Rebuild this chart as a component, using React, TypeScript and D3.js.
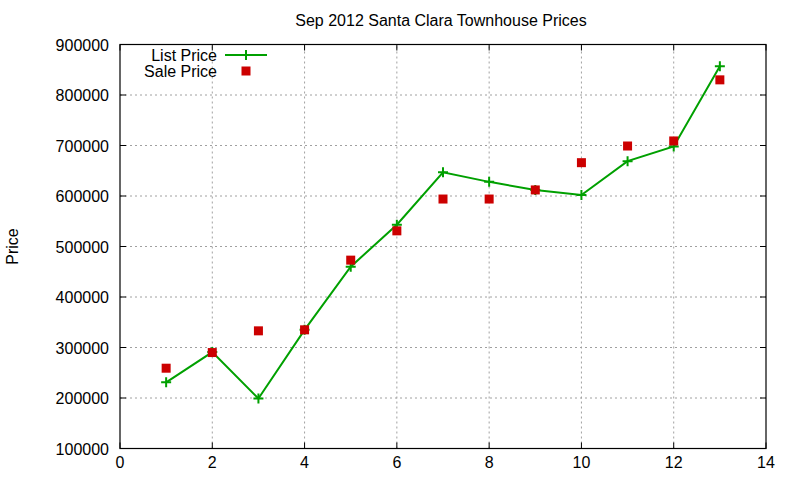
import * as d3 from "d3";

const xs = [1, 2, 3, 4, 5, 6, 7, 8, 9, 10, 11, 12, 13];
const listPrice = [231000, 291000, 199000, 335000, 460000, 543000, 647000, 628000, 612000, 602000, 669000, 698000, 857000];
const salePrice = [259000, 290000, 333000, 335000, 473000, 531000, 594000, 594000, 612000, 666000, 699000, 709000, 830000];
const xTicks = [0, 2, 4, 6, 8, 10, 12, 14];
const yTicks = [100000, 200000, 300000, 400000, 500000, 600000, 700000, 800000, 900000];

const W = 800;
const H = 480;
const m = { l: 120, r: 34, t: 44.5, b: 31.5 };
const font = "'Liberation Sans', Arial, sans-serif";

export default function App() {
  const x = d3.scaleLinear().domain([0, 14]).range([m.l, W - m.r]);
  const y = d3.scaleLinear().domain([100000, 900000]).range([H - m.b, m.t]);
  const line = d3
    .line<number>()
    .x((_, i) => x(xs[i]))
    .y((d) => y(d));
  const green = "#00a000";
  const red = "#cc0000";
  const plus = (cx: number, cy: number, k: string) => (
    <path key={k} d={`M${cx - 5},${cy}H${cx + 5}M${cx},${cy - 5}V${cy + 5}`} stroke={green} strokeWidth={2} />
  );

  return (
    <svg
      width={W}
      height={H}
      style={{ position: "absolute", left: 0, top: 0, background: "#fff" }}
      fontFamily={font}
    >
      {/* grid */}
      <g stroke="#a0a0a0" strokeWidth={1} strokeDasharray="2,3">
        {xTicks.slice(1, -1).map((t) => (
          <line key={"gx" + t} x1={x(t)} x2={x(t)} y1={y(100000)} y2={y(900000)} />
        ))}
        {yTicks.slice(1, -1).map((t) => (
          <line key={"gy" + t} x1={x(0)} x2={x(14)} y1={y(t)} y2={y(t)} />
        ))}
      </g>
      {/* ticks, mirrored */}
      <g stroke="#000" strokeWidth={1}>
        {xTicks.map((t) => (
          <g key={"tx" + t}>
            <line x1={x(t)} x2={x(t)} y1={y(100000)} y2={y(100000) - 6} />
            <line x1={x(t)} x2={x(t)} y1={y(900000)} y2={y(900000) + 6} />
          </g>
        ))}
        {yTicks.map((t) => (
          <g key={"ty" + t}>
            <line x1={x(0)} x2={x(0) + 6} y1={y(t)} y2={y(t)} />
            <line x1={x(14)} x2={x(14) - 6} y1={y(t)} y2={y(t)} />
          </g>
        ))}
      </g>
      <rect
        x={x(0)}
        y={y(900000)}
        width={x(14) - x(0)}
        height={y(100000) - y(900000)}
        fill="none"
        stroke="#000"
        strokeWidth={1.2}
      />
      {/* tick labels */}
      <g fontSize={16} fill="#000">
        {xTicks.map((t) => (
          <text key={"lx" + t} x={x(t)} y={y(100000) + 19} textAnchor="middle">
            {t}
          </text>
        ))}
        {yTicks.map((t) => (
          <text key={"ly" + t} x={x(0) - 11} y={y(t) + 6} textAnchor="end">
            {t}
          </text>
        ))}
      </g>
      <text x={441} y={26} fontSize={16} textAnchor="middle">
        Sep 2012 Santa Clara Townhouse Prices
      </text>
      <text transform={`translate(18,${(y(100000) + y(900000)) / 2}) rotate(-90)`} fontSize={16} textAnchor="middle">
        Price
      </text>
      {/* series */}
      <path d={line(listPrice) ?? ""} fill="none" stroke={green} strokeWidth={2} />
      {listPrice.map((v, i) => plus(x(xs[i]), y(v), "p" + i))}
      {salePrice.map((v, i) => (
        <rect key={"s" + i} x={x(xs[i]) - 4.5} y={y(v) - 4.5} width={9} height={9} fill={red} />
      ))}
      {/* legend */}
      <g fontSize={16}>
        <text x={217} y={61} textAnchor="end">List Price</text>
        <line x1={225} x2={267} y1={55} y2={55} stroke={green} strokeWidth={2} />
        {plus(246, 55, "lp")}
        <text x={217} y={77} textAnchor="end">Sale Price</text>
        <rect x={241.5} y={66.5} width={9} height={9} fill={red} />
      </g>
    </svg>
  );
}
